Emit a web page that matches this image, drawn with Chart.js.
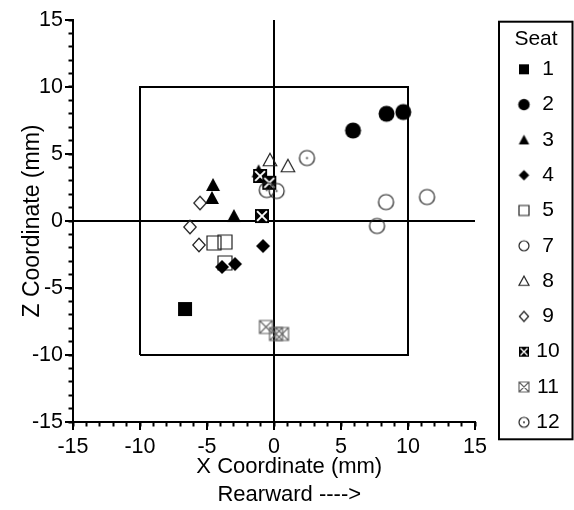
<!DOCTYPE html>
<html>
<head>
<meta charset="utf-8">
<script src="https://cdn.jsdelivr.net/npm/chart.js@4.4.1/dist/chart.umd.min.js"></script>
<style>
  html, body { margin: 0; padding: 0; background: #fff; }
  #wrap { width: 574px; height: 510px; }
</style>
</head>
<body>
<div id="wrap"><canvas id="c" width="574" height="510"></canvas></div>
<script>
// ---- data ----
const seatLabels = ['1', '2', '3', '4', '5', '7', '8', '9', '10', '11', '12'];

const seat1X  = [-6.64];
const seat1Z  = [-6.57];
const seat2X  = [5.90, 8.40, 9.65];
const seat2Z  = [6.75, 8.00, 8.13];
const seat3X  = [-1.15, -4.55, -4.63, -2.99];
const seat3Z  = [3.70, 2.69, 1.72, 0.37];
const seat4X  = [-0.82, -3.88, -2.91];
const seat4Z  = [-1.87, -3.43, -3.21];
const seat5X  = [-4.48, -3.66, -3.66];
const seat5Z  = [-1.64, -1.57, -3.13];
const seat7X  = [8.36, 11.42, 7.69];
const seat7Z  = [1.41, 1.79, -0.37];
const seat8X  = [-0.30, 1.04];
const seat8Z  = [4.55, 4.10];
const seat9X  = [-5.52, -6.27, -5.60];
const seat9Z  = [1.34, -0.45, -1.79];
const seat10X = [-1.04, -0.35, -0.90];
const seat10Z = [3.36, 2.85, 0.37];
const seat11X = [-0.60, 0.15, 0.60];
const seat11Z = [-7.91, -8.43, -8.43];
const seat12X = [2.46, -0.54, 0.20];
const seat12Z = [4.70, 2.31, 2.24];

const axisMin = -15, axisMax = 15;
const majorStep = 5, minorStep = 1;
const frameLow = -10, frameHigh = 10;
const xTitleLines = ['X Coordinate (mm)', 'Rearward ---->'];
const yTitleText = 'Z Coordinate (mm)';
const legendTitle = 'Seat';

const seatXs = [seat1X, seat2X, seat3X, seat4X, seat5X, seat7X, seat8X, seat9X, seat10X, seat11X, seat12X];
const seatZs = [seat1Z, seat2Z, seat3Z, seat4Z, seat5Z, seat7Z, seat8Z, seat9Z, seat10Z, seat11Z, seat12Z];

// ---- marker images ----
const kinds = ['fsquare', 'fcircle', 'ftri', 'fdiamond', 'osquare', 'ocircle', 'otri', 'odiamond', 'box10', 'box11', 'dotcircle'];
function marker(kind, s) {
  const W = Math.ceil(s) + 4;
  const c = document.createElement('canvas');
  c.width = W; c.height = W;
  const g = c.getContext('2d');
  const m = W / 2, h = s / 2;
  g.lineWidth = 1.2;
  g.strokeStyle = '#222';
  g.fillStyle = '#000';
  g.beginPath();
  switch (kind) {
    case 'fsquare': g.rect(m - h, m - h, s, s); g.fill(); break;
    case 'fcircle': g.arc(m, m, h + 0.5, 0, Math.PI * 2); g.fill(); break;
    case 'ftri':
      g.moveTo(m, m - h); g.lineTo(m + h, m + h * 0.85); g.lineTo(m - h, m + h * 0.85); g.closePath(); g.fill(); break;
    case 'fdiamond':
      g.moveTo(m, m - h); g.lineTo(m + h, m); g.lineTo(m, m + h); g.lineTo(m - h, m); g.closePath(); g.fill(); break;
    case 'osquare': g.rect(m - h, m - h, s, s); g.stroke(); break;
    case 'ocircle': g.arc(m, m, h, 0, Math.PI * 2); g.stroke(); break;
    case 'otri':
      g.moveTo(m, m - h); g.lineTo(m + h, m + h * 0.85); g.lineTo(m - h, m + h * 0.85); g.closePath(); g.stroke(); break;
    case 'odiamond':
      g.moveTo(m, m - h); g.lineTo(m + h * 0.92, m); g.lineTo(m, m + h); g.lineTo(m - h * 0.92, m); g.closePath(); g.stroke(); break;
    case 'box10': {
      g.rect(m - h, m - h, s, s); g.fill();
      const k = h - s * 0.15;
      g.beginPath();
      g.strokeStyle = '#fff'; g.lineWidth = s * 0.14;
      g.moveTo(m - k, m - k); g.lineTo(m + k, m + k);
      g.moveTo(m + k, m - k); g.lineTo(m - k, m + k);
      g.stroke();
      break;
    }
    case 'box11':
      g.strokeStyle = '#666';
      g.rect(m - h, m - h, s, s);
      g.moveTo(m - h, m - h); g.lineTo(m + h, m + h);
      g.moveTo(m + h, m - h); g.lineTo(m - h, m + h);
      g.stroke();
      break;
    case 'dotcircle':
      g.arc(m, m, h, 0, Math.PI * 2); g.stroke();
      g.beginPath(); g.fillStyle = '#333'; g.arc(m, m, 1, 0, Math.PI * 2); g.fill();
      break;
  }
  return c;
}
const plotSizes = [14, 15, 14, 14, 14, 15, 13.5, 13.5, 14, 13, 15];
const legendSizes = [10, 10.5, 10.5, 10.5, 10, 10, 10, 10, 10, 10, 10];
const plotMarkers = kinds.map((k, i) => marker(k, plotSizes[i]));
const legendMarkers = kinds.map((k, i) => marker(k, legendSizes[i]));
const drawOrders = [20, 19, 18, 16, 17, 15, 14, 13, 12, 11, 10];

const FONT = "'Liberation Sans', Arial, Helvetica, sans-serif";
Chart.defaults.font.family = FONT;
Chart.defaults.font.size = 21;
Chart.defaults.color = '#000';

const datasets = [{
  label: 'frame',
  data: [
    {x: frameLow, y: frameLow}, {x: frameLow, y: frameHigh}, {x: frameHigh, y: frameHigh},
    {x: frameHigh, y: frameLow}, {x: frameLow, y: frameLow}
  ],
  showLine: true, borderColor: '#000', borderWidth: 2, pointRadius: 0, fill: false, order: 100
}].concat(seatLabels.map((lab, i) => ({
  label: lab,
  data: seatXs[i].map((x, j) => ({x: x, y: seatZs[i][j]})),
  pointStyle: plotMarkers[i],
  pointRadius: 7,
  showLine: false,
  order: drawOrders[i]
})));

const zeroGrid = (c) => (c.tick && c.tick.value === 0) ? '#000' : 'rgba(0,0,0,0)';

// the axis title sits slightly right of the plot centre in the reference
const titleShift = '     ';

const legendPlacer = {
  id: 'legendPlacer',
  afterLayout(chart) {
    const lg = chart.legend;
    if (!lg) return;
    lg.left = 499;
    lg.width = 74;
    lg.right = 550.8;
    if (!lg._noClip) {
      lg._noClip = true;
      lg.draw = function () { if (this.options.display) this._draw(); };
    }
  },
  afterDraw(chart) {
    const lg = chart.legend;
    if (!lg || !lg.legendHitBoxes || !lg.legendHitBoxes.length) return;
    const hb = lg.legendHitBoxes;
    const last = hb[hb.length - 1];
    const top = lg.top + 1.7;
    const bottom = last.top + last.height + 6.5;
    const ctx = chart.ctx;
    ctx.save();
    ctx.strokeStyle = '#000';
    ctx.lineWidth = 2;
    ctx.strokeRect(lg.left, top, lg.width - 0.5, bottom - top);
    ctx.restore();
  }
};

new Chart(document.getElementById('c'), {
  type: 'scatter',
  data: { datasets: datasets },
  plugins: [legendPlacer],
  options: {
    responsive: false,
    animation: false,
    devicePixelRatio: 1,
    events: [],
    layout: { padding: { top: 20, right: 39, bottom: 0, left: 0 } },
    plugins: {
      tooltip: { enabled: false },
      legend: {
        position: 'right',
        align: 'start',
        maxWidth: 60,
        title: {
          display: true, text: legendTitle, color: '#000',
          font: { size: 21, lineHeight: 1 },
          padding: { top: 8.5, bottom: -5 }
        },
        labels: {
          usePointStyle: true,
          pointStyleWidth: 21.4,
          padding: 14.3,
          color: '#000',
          textAlign: 'center',
          font: { size: 21 },
          generateLabels: () => seatLabels.map((lab, i) => ({
            text: lab, pointStyle: legendMarkers[i], fillStyle: '#000', strokeStyle: '#000',
            lineWidth: 0, hidden: false, datasetIndex: i + 1, fontColor: '#000', textAlign: 'center'
          }))
        }
      }
    },
    scales: {
      x: {
        type: 'linear', position: 'bottom', min: axisMin, max: axisMax,
        ticks: { stepSize: majorStep, padding: 4, color: '#000', font: { size: 21.5 } },
        grid: { color: zeroGrid, lineWidth: 2, tickColor: '#000', tickLength: 8, tickWidth: 2 },
        border: { display: true, color: '#000', width: 2 },
        title: {
          display: true, text: xTitleLines.map(t => titleShift + t), color: '#000',
          font: { size: 22, lineHeight: 1.27 }, padding: { top: 0, bottom: 1 }
        },
        afterFit: (s) => { s.height = 88; }
      },
      xMinor: {
        type: 'linear', position: 'bottom', weight: -1, min: axisMin, max: axisMax,
        ticks: { stepSize: minorStep, display: false },
        grid: { drawOnChartArea: false, tickColor: '#000', tickLength: 4.5, tickWidth: 2 },
        border: { display: false },
        afterFit: (s) => { s.height = 0; }
      },
      y: {
        type: 'linear', position: 'left', min: axisMin, max: axisMax,
        ticks: { stepSize: majorStep, padding: 2, color: '#000', font: { size: 21.5 } },
        grid: { color: zeroGrid, lineWidth: 2, tickColor: '#000', tickLength: 8, tickWidth: 2 },
        border: { display: true, color: '#000', width: 2 },
        title: { display: true, text: yTitleText, color: '#000', font: { size: 23, lineHeight: 1.2 }, padding: { top: 19, bottom: 0 } },
        afterFit: (s) => { s.width = 73; }
      },
      yMinor: {
        type: 'linear', position: 'left', weight: -1, min: axisMin, max: axisMax,
        ticks: { stepSize: minorStep, display: false },
        grid: { drawOnChartArea: false, tickColor: '#000', tickLength: 4.5, tickWidth: 2 },
        border: { display: false },
        afterFit: (s) => { s.width = 0; }
      }
    }
  }
});
</script>
</body>
</html>
